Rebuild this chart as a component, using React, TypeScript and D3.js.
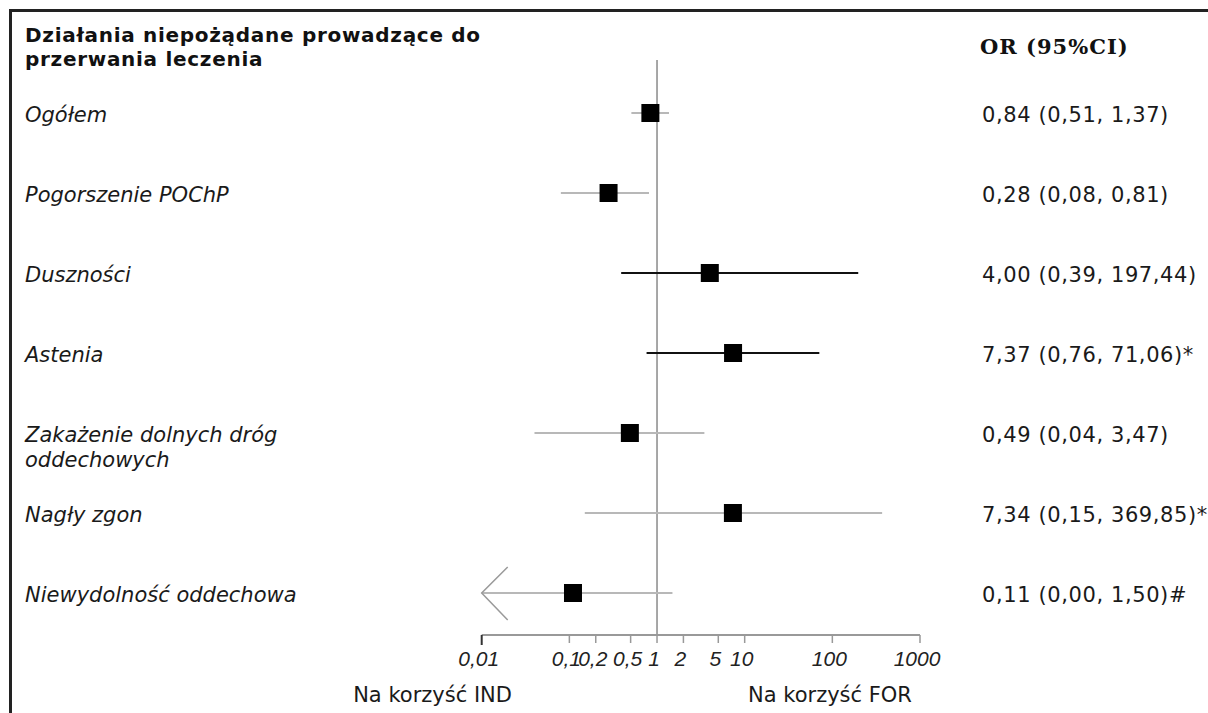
import React from "react";
import * as d3 from "d3";

// ---- data ----
const categories: string[][] = [
  ["Ogółem"],
  ["Pogorszenie POChP"],
  ["Duszności"],
  ["Astenia"],
  ["Zakażenie dolnych dróg", "oddechowych"],
  ["Nagły zgon"],
  ["Niewydolność oddechowa"],
];
const orValues = [0.84, 0.28, 4.0, 7.37, 0.49, 7.34, 0.11];
const ciLow = [0.51, 0.08, 0.39, 0.76, 0.04, 0.15, 0.0];
const ciHigh = [1.37, 0.81, 197.44, 71.06, 3.47, 369.85, 1.5];
const notes = ["", "", "", "*", "", "*", "#"];
const tickValues = [0.01, 0.1, 0.2, 0.5, 1, 2, 5, 10, 100, 1000];
const tickLabels = ["0,01", "0,1", "0,2", "0,5", "1", "2", "5", "10", "100", "1000"];
const titleLines = ["Działania niepożądane prowadzące do", "przerwania leczenia"];
const headerText = "OR (95%CI)";
const leftFavour = "Na korzyść IND";
const rightFavour = "Na korzyść FOR";
const darkRows = new Set([2, 3]);

const W = 1208;
const H = 713;

const fmt = (v: number) => d3.format(".2f")(v).replace(".", ",");

export default function App() {
  const x = d3.scaleLog().domain([0.01, 1000]).range([481.7, 920]);
  const y = d3
    .scalePoint<number>()
    .domain(categories.map((_, i) => i))
    .range([113, 593]);
  const axisY = 635;
  const sq = 18;
  const [dMin] = x.domain();

  return (
    <svg
      width={W}
      height={H}
      style={{ position: "absolute", left: 0, top: 0, display: "block", background: "#fff" }}
    >
      {/* frame */}
      <line x1={10.5} y1={10.5} x2={W} y2={10.5} stroke="#222" strokeWidth={3} />
      <line x1={10.5} y1={9} x2={10.5} y2={H} stroke="#222" strokeWidth={3} />

      {/* title */}
      {titleLines.map((t, i) => (
        <text
          key={t}
          x={25}
          y={42 + i * 24}
          fontFamily="DejaVu Sans"
          fontWeight="bold"
          fontSize={20}
          letterSpacing={0.7}
          fill="#111"
        >
          {t}
        </text>
      ))}
      <text
        x={980}
        y={54}
        fontFamily="DejaVu Serif"
        fontWeight="bold"
        fontSize={21}
        letterSpacing={1}
        fill="#111"
      >
        {headerText}
      </text>

      {/* reference line at 1 */}
      <line x1={x(1)} x2={x(1)} y1={60} y2={axisY} stroke="#8a8a8a" strokeWidth={1.5} />

      {/* rows */}
      {categories.map((lines, i) => {
        const cy = y(i)!;
        const lo = ciLow[i] < dMin ? dMin : ciLow[i];
        const clipped = ciLow[i] < dMin;
        const stroke = darkRows.has(i) ? "#111" : "#b8b8b8";
        return (
          <g key={i}>
            {lines.map((l, j) => (
              <text
                key={j}
                x={25}
                y={cy + 9 + j * 25}
                fontFamily="DejaVu Sans"
                fontStyle="italic"
                fontSize={21}
                fill="#1a1a1a"
              >
                {l}
              </text>
            ))}
            <line
              x1={x(lo)}
              x2={x(ciHigh[i])}
              y1={cy}
              y2={cy}
              stroke={stroke}
              strokeWidth={2}
            />
            {clipped && (
              <polyline
                points={`${x(lo) + 26},${cy - 26} ${x(lo)},${cy} ${x(lo) + 26},${cy + 27}`}
                fill="none"
                stroke="#9a9a9a"
                strokeWidth={1.5}
              />
            )}
            <rect
              x={x(orValues[i]) - sq / 2}
              y={cy - sq / 2}
              width={sq}
              height={sq}
              fill="#000"
            />
            <text
              x={982}
              y={cy + 9}
              fontFamily="DejaVu Sans"
              fontSize={21}
              letterSpacing={0.6}
              fill="#1a1a1a"
            >
              {`${fmt(orValues[i])} (${fmt(ciLow[i])}, ${fmt(ciHigh[i])})${notes[i]}`}
            </text>
          </g>
        );
      })}

      {/* axis */}
      <line x1={x(0.01)} x2={x(1000)} y1={axisY} y2={axisY} stroke="#999" strokeWidth={2} />
      {tickValues.map((t, i) => (
        <g key={t}>
          <line
            x1={x(t)}
            x2={x(t)}
            y1={axisY}
            y2={axisY + (i === 0 ? 10 : 8)}
            stroke={i === 0 ? "#333" : "#999"}
            strokeWidth={i === 0 ? 2 : 1.5}
          />
          <text
            x={x(t) - 3}
            y={666}
            textAnchor="middle"
            fontFamily="Liberation Sans"
            fontStyle="italic"
            fontSize={21}
            fill="#222"
          >
            {tickLabels[i]}
          </text>
        </g>
      ))}
      <text x={512} y={702} textAnchor="end" fontFamily="DejaVu Sans" fontSize={21} fill="#1a1a1a">
        {leftFavour}
      </text>
      <text x={748} y={702} fontFamily="DejaVu Sans" fontSize={21} fill="#1a1a1a">
        {rightFavour}
      </text>
    </svg>
  );
}
